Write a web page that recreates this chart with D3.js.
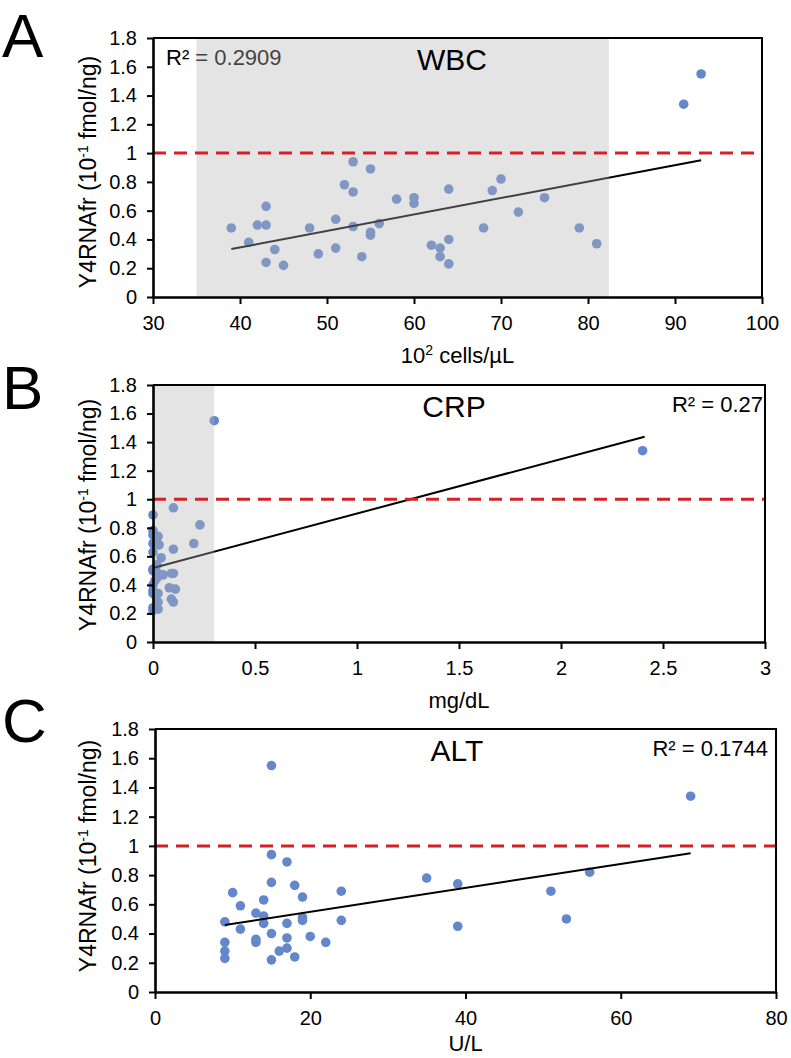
<!DOCTYPE html>
<html><head><meta charset="utf-8">
<script src="https://cdn.jsdelivr.net/npm/d3@7"></script>
<style>body{margin:0;background:#fff}svg{display:block;font-family:"Liberation Sans",Arial,sans-serif}</style>
</head><body><svg id="c" width="791" height="1058"></svg>
<script>
// ---------- shared ----------
const yTicks = [0, 0.2, 0.4, 0.6, 0.8, 1, 1.2, 1.4, 1.6, 1.8];
const threshold = 1;

// ---------- A: WBC ----------
const wbcTicks = [30, 40, 50, 60, 70, 80, 90, 100];
const wbcX = [39,41,42,43,43,44,43,45,48,49,51,51,52,53,53,53,54,55,55,55,56,58,60,60,62,63,63,64,64,64,68,69,70,72,75,79,81,91,93];
const wbcY = [0.48,0.38,0.50,0.50,0.63,0.33,0.24,0.22,0.48,0.30,0.54,0.34,0.78,0.94,0.73,0.49,0.28,0.89,0.45,0.43,0.51,0.68,0.69,0.65,0.36,0.34,0.28,0.75,0.40,0.23,0.48,0.74,0.82,0.59,0.69,0.48,0.37,1.34,1.55];
const wbcTrendX = [39, 93];
const wbcTrendY = [0.333, 0.951];
const wbcNormal = [35, 82.4];

// ---------- B: CRP ----------
const crpTicks = [0, 0.5, 1, 1.5, 2, 2.5, 3];
const crpX = [0.30,2.40,0.10,0,0.23,0,0,0.025,0.02,0,0.03,0.20,0.10,0,0.04,0.02,0,0,0.01,0.025,0.05,0.09,0.10,0.02,0.01,0,0.08,0.11,0,0,0.025,0.01,0.09,0.10,0.025,0,0.025,0];
const crpY = [1.55,1.34,0.94,0.89,0.82,0.78,0.75,0.74,0.73,0.69,0.68,0.69,0.65,0.63,0.59,0.54,0.51,0.50,0.49,0.48,0.47,0.48,0.48,0.45,0.43,0.40,0.38,0.37,0.36,0.34,0.34,0.33,0.30,0.28,0.28,0.24,0.23,0.22];
const crpTrendX = [0, 2.41];
const crpTrendY = [0.518, 1.438];
const crpNormal = [0, 0.3];

// ---------- C: ALT ----------
const altTicks = [0, 20, 40, 60, 80];
const altX = [15,15,17,15,18,10,19,14,24,11,13,14,9,14,17,19,19,24,11,15,17,13,13,20,22,9,9,9,16,17,15,18,35,39,39,51,53,56,69];
const altY = [1.55,0.94,0.89,0.75,0.73,0.68,0.65,0.63,0.69,0.59,0.54,0.52,0.48,0.47,0.47,0.51,0.49,0.49,0.43,0.40,0.37,0.36,0.34,0.38,0.34,0.34,0.28,0.23,0.28,0.30,0.22,0.24,0.78,0.74,0.45,0.69,0.50,0.82,1.34];
const altTrendX = [9, 69];
const altTrendY = [0.459, 0.95];

const panels = [
  { letter: "A", title: "WBC", r2: "R² = 0.2909", xs: wbcX, ys: wbcY, tx: wbcTrendX, ty: wbcTrendY,
    xDomain: [30, 100], xTicks: wbcTicks, normal: wbcNormal, xTitle: ["10", "2", " cells/µL"],
    L: 153, R: 762, T: 38, B: 297, letterY: 57, titleX: 452, r2Anchor: "start", r2X: 166, xTitleDy: 66, yTitleC: 172 },
  { letter: "B", title: "CRP", r2: "R² = 0.27", xs: crpX, ys: crpY, tx: crpTrendX, ty: crpTrendY,
    xDomain: [0, 3], xTicks: crpTicks, normal: crpNormal, xTitle: ["mg/dL"],
    L: 153, R: 765, T: 385, B: 642, letterY: 409, titleX: 454, r2Anchor: "end", r2X: 763, xTitleDy: 66, yTitleC: 515 },
  { letter: "C", title: "ALT", r2: "R² = 0.1744", xs: altX, ys: altY, tx: altTrendX, ty: altTrendY,
    xDomain: [0, 80], xTicks: altTicks, normal: null, xTitle: ["U/L"],
    L: 155, R: 776, T: 729, B: 992, letterY: 742, titleX: 457, r2Anchor: "end", r2X: 768, xTitleDy: 59, yTitleC: 856 }
];

const svg = d3.select("#c");
const fmt = d3.format("~g");

panels.forEach(p => {
  const x = d3.scaleLinear().domain(p.xDomain).range([p.L, p.R]);
  const y = d3.scaleLinear().domain([0, 1.8]).range([p.B, p.T]);
  const g = svg.append("g");

  // panel letter
  g.append("text").attr("x", 2).attr("y", p.letterY).attr("font-size", 62).attr("fill", "#000").text(p.letter);

  // R² text
  g.append("text").attr("x", p.r2X).attr("y", p.T + 27).attr("text-anchor", p.r2Anchor)
    .attr("font-size", 22).attr("fill", "#000").text(p.r2);

  // points
  g.append("g").selectAll("circle").data(p.xs.map((v, i) => [v, p.ys[i]])).join("circle")
    .attr("cx", d => x(d[0])).attr("cy", d => y(d[1])).attr("r", 4.8).attr("fill", "#6487cc");

  // trend line
  g.append("path").attr("d", d3.line().x(d => x(d[0])).y(d => y(d[1]))(p.tx.map((v, i) => [v, p.ty[i]])))
    .attr("stroke", "#000").attr("stroke-width", 2).attr("fill", "none");

  // translucent normal-range overlay
  if (p.normal) {
    g.append("rect").attr("x", x(p.normal[0])).attr("width", x(p.normal[1]) - x(p.normal[0]))
      .attr("y", y(1.8)).attr("height", y(0) - y(1.8)).attr("fill", "#b5b3b3").attr("opacity", 0.36);
  }

  // threshold
  g.append("line").attr("x1", p.L).attr("x2", p.R).attr("y1", y(threshold)).attr("y2", y(threshold))
    .attr("stroke", "#d42027").attr("stroke-width", 3).attr("stroke-dasharray", "13,8");

  // title
  g.append("text").attr("x", p.titleX).attr("y", p.T + 32).attr("text-anchor", "middle")
    .attr("font-size", 30).attr("fill", "#000").text(p.title);

  // frame
  g.append("path").attr("d", `M${p.L},${p.T}H${p.R}V${p.B}`).attr("stroke", "#000").attr("stroke-width", 2).attr("fill", "none");

  // axes
  const ya = g.append("g").attr("transform", `translate(${p.L},0)`)
    .call(d3.axisLeft(y).tickValues(yTicks).tickFormat(fmt).tickSize(6).tickSizeOuter(0).tickPadding(10));
  const xa = g.append("g").attr("transform", `translate(0,${p.B})`)
    .call(d3.axisBottom(x).tickValues(p.xTicks).tickFormat(fmt).tickSize(7).tickSizeOuter(0).tickPadding(12));
  [ya, xa].forEach(a => {
    a.select(".domain").attr("stroke", "#000").attr("stroke-width", 2.6);
    a.selectAll(".tick line").attr("stroke", "#000").attr("stroke-width", 2);
    a.selectAll(".tick text").attr("font-size", 20).attr("fill", "#000")
      .attr("font-family", '"Liberation Sans",Arial,sans-serif');
  });

  // y title
  const yt = g.append("text").attr("transform", `translate(96,${p.yTitleC}) rotate(-90)`)
    .attr("text-anchor", "middle").attr("font-size", 23).attr("fill", "#000");
  yt.append("tspan").text("Y4RNAfr (10");
  yt.append("tspan").attr("dy", -8).attr("font-size", 14).text("-1");
  yt.append("tspan").attr("dy", 8).text(" fmol/ng)");

  // x title
  const xt = g.append("text").attr("x", (p.L + p.R) / 2).attr("y", p.B + p.xTitleDy).attr("text-anchor", "middle")
    .attr("font-size", 22).attr("fill", "#000");
  if (p.xTitle.length === 3) {
    xt.append("tspan").text(p.xTitle[0]);
    xt.append("tspan").attr("dy", -8).attr("font-size", 14).text(p.xTitle[1]);
    xt.append("tspan").attr("dy", 8).text(p.xTitle[2]);
  } else {
    xt.text(p.xTitle[0]);
  }
});
</script></body></html>
